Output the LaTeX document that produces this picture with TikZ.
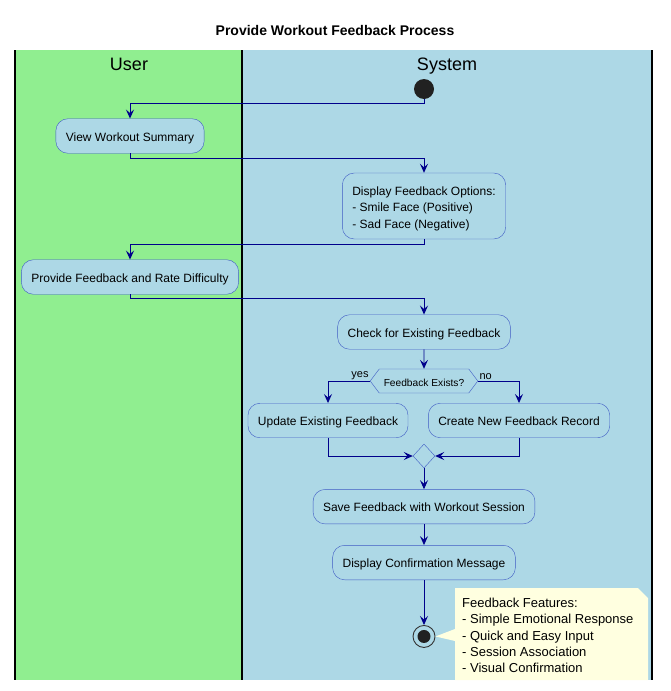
\documentclass[tikz,border=0pt]{standalone}
\usepackage{fontspec}
\setmainfont{Liberation Sans}
\usetikzlibrary{shapes,arrows.meta,positioning}
\definecolor{usergreen}{HTML}{90EE90}
\definecolor{syslblue}{HTML}{ADD8E6}
\definecolor{boxblue}{HTML}{3F5BC4}
\definecolor{arrowblue}{HTML}{00008B}
\definecolor{notefill}{HTML}{FFFFE0}
\tikzstyle{act} = [rectangle, draw=boxblue, fill=syslblue, rounded corners=12pt, inner xsep=10pt, inner ysep=0pt, text height=11.5pt, text depth=1pt, minimum height=34.5pt, font=\fontsize{12}{16.5}\selectfont]
\tikzstyle{actml} = [rectangle, draw=boxblue, fill=syslblue, rounded corners=12pt, inner xsep=10pt, inner ysep=0pt, align=left, text height=44pt, text depth=0pt, minimum height=66pt, font=\fontsize{12}{16.5}\selectfont]
\tikzstyle{decide} = [signal, signal to=west and east, signal pointer angle=106, draw=boxblue, fill=syslblue, inner xsep=4.5pt, inner ysep=0pt, text height=10.5pt, text depth=0.5pt, minimum height=24pt, font=\fontsize{10.2}{12}\selectfont]
\tikzstyle{mergebox} = [diamond, draw=boxblue, fill=syslblue, minimum width=22pt, minimum height=24pt, inner sep=0pt]
\tikzstyle{startdot} = [circle, fill=black!87, minimum size=20pt, inner sep=0pt]
\tikzstyle{stopdot} = [circle, draw=black!80, fill=syslblue, line width=0.9pt, minimum size=22pt, inner sep=0pt, path picture={\fill[black!87] (path picture bounding box.center) circle (6.5pt);}]
\tikzstyle{line} = [draw=arrowblue, line width=0.9pt, -{Stealth[length=9pt,width=8pt,inset=3.5pt]}]
\tikzstyle{guard} = [font=\fontsize{11}{12}\selectfont, inner sep=1pt]
\tikzstyle{lane} = [draw=black, line width=1.3pt]
\tikzstyle{lanehead} = [anchor=base, font=\fontsize{18}{20}\selectfont]
\tikzstyle{notetext} = [align=left, inner xsep=7pt, inner ysep=10pt, font=\fontsize{13}{16.3}\selectfont]

\begin{document}
\begin{tikzpicture}[x=1pt,y=-1pt]
    \useasboundingbox (0,0) rectangle (670,691);
    \node [font=\bfseries\fontsize{14}{16}\selectfont] (title) at (335,30) {Provide Workout Feedback Process};
    \fill [usergreen] (15,50) rectangle (242,680);
    \fill [syslblue] (242,50) rectangle (652,680);
    \draw [lane] (15,50) -- (15,680);
    \draw [lane] (242,50) -- (242,680);
    \draw [lane] (652,50) -- (652,680);
    \node [lanehead] (userhead) at (129,70.5) {User};
    \node [lanehead] (syshead) at (447,70.5) {System};
    \node [startdot] (start) at (424,89) {};
    \node [act] (view) at (130,136) {View Workout Summary};
    \node [actml] (display) at (424,206) {Display Feedback Options:\\- Smile Face (Positive)\\- Sad Face (Negative)};
    \node [act] (provide) at (130,277) {Provide Feedback and Rate Difficulty};
    \node [act] (check) at (424,332) {Check for Existing Feedback};
    \node [decide] (exists) at (424,381) {Feedback Exists?};
    \node [act] (update) at (328,420.5) {Update Existing Feedback};
    \node [act] (create) at (519,420.5) {Create New Feedback Record};
    \node [mergebox] (merged) at (424,456) {};
    \node [act, below=21pt of merged] (save) {Save Feedback with Workout Session};
    \node [act, below=21pt of save] (confirm) {Display Confirmation Message};
    \node [stopdot, below=45pt of confirm] (stop) {};
    \fill [notefill] (455,588) -- (638,588) -- (648,598) -- (648,680) -- (455,680) -- (455,641) -- (stop.east) -- (455,629) -- cycle;
    \node [notetext, anchor=north west] (note) at (455,588) {Feedback Features:\\- Simple Emotional Response\\- Quick and Easy Input\\- Session Association\\- Visual Confirmation};
    \path [line] (start.south) -- ++(0,4) -| (view.north);
    \path [line] (view.south) -- ++(0,5) -| (display.north);
    \path [line] (display.south) -- ++(0,5) -| (provide.north);
    \path [line] (provide.south) -- ++(0,4) -| (check.north);
    \path [line] (check) -- (exists);
    \path [line] (exists.west) -| node [guard, pos=0, anchor=south east] {yes} (update.north);
    \path [line] (exists.east) -| node [guard, pos=0, anchor=south west] {no} (create.north);
    \path [line] (update.south) |- (merged.west);
    \path [line] (create.south) |- (merged.east);
    \path [line] (merged) -- (save);
    \path [line] (save) -- (confirm);
    \path [line] (confirm) -- (stop);
\end{tikzpicture}
\end{document}
